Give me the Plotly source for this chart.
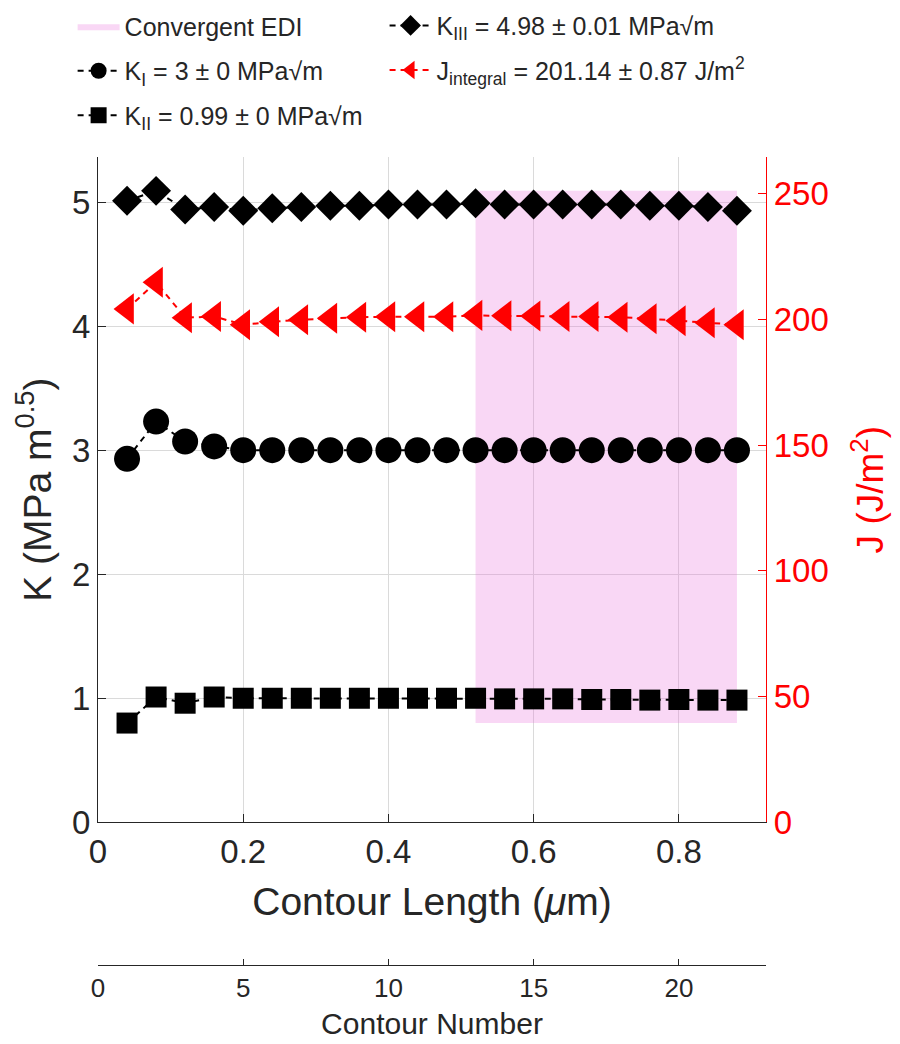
import plotly.graph_objects as go

# ---------------- data ----------------
contour_number = [1, 2, 3, 4, 5, 6, 7, 8, 9, 10, 11, 12, 13, 14, 15, 16, 17, 18, 19, 20, 21, 22]
contour_length = [0.04, 0.08, 0.12, 0.16, 0.20, 0.24, 0.28, 0.32, 0.36, 0.40, 0.44,
                  0.48, 0.52, 0.56, 0.60, 0.64, 0.68, 0.72, 0.76, 0.80, 0.84, 0.88]
K_I = [2.93, 3.23, 3.07, 3.03, 3.00, 3.00, 3.00, 3.00, 3.00, 3.00, 3.00,
       3.00, 3.00, 3.00, 3.00, 3.00, 3.00, 3.00, 3.00, 3.00, 3.00, 3.00]
K_II = [0.80, 1.01, 0.96, 1.01, 1.00, 1.00, 1.00, 1.00, 1.00, 1.00, 1.00,
        1.00, 1.00, 0.995, 0.995, 0.995, 0.99, 0.99, 0.985, 0.99, 0.985, 0.985]
K_III = [5.01, 5.09, 4.94, 4.96, 4.93, 4.95, 4.96, 4.97, 4.97, 4.98, 4.98,
         4.98, 4.99, 4.98, 4.98, 4.98, 4.98, 4.98, 4.97, 4.97, 4.96, 4.93]
J_integral = [204.1, 214.7, 200.6, 201.1, 197.8, 199.0, 199.8, 200.4, 200.8, 201.0, 201.0,
              201.0, 201.5, 201.4, 201.3, 201.1, 201.1, 200.8, 200.2, 199.4, 198.6, 197.8]
convergent_start = 13   # first contour of convergent EDI region
convergent_end = 22     # last contour of convergent EDI region

legend_labels = {
    "edi": "Convergent EDI",
    "KI": "K<sub>I</sub> = 3 ± 0 MPa√m",
    "KII": "K<sub>II</sub> = 0.99 ± 0 MPa√m",
    "KIII": "K<sub>III</sub> = 4.98 ± 0.01 MPa√m",
    "J": "J<sub>integral</sub> = 201.14 ± 0.87 J/m<sup>2</sup>",
}

x_ticks = [0, 0.2, 0.4, 0.6, 0.8]
k_ticks = [0, 1, 2, 3, 4, 5]
j_ticks = [0, 50, 100, 150, 200, 250]
n_ticks = [0, 5, 10, 15, 20]

# ---------------- styles ----------------
AX = "#262626"
GRID = "#dadada"
FONT = "Liberation Sans, Arial, Helvetica, sans-serif"

# shaded region from data
i0 = contour_number.index(convergent_start)
i1 = contour_number.index(convergent_end)
xs0, xs1 = contour_length[i0], contour_length[i1]
all_k = K_I + K_II + K_III
ys0, ys1 = min(all_k), max(all_k)

fig = go.Figure()

fig.add_trace(go.Scatter(
    x=[xs0, xs1, xs1, xs0, xs0], y=[ys0, ys0, ys1, ys1, ys0],
    fill="toself", fillcolor="rgba(235,110,220,0.28)", mode="lines",
    line=dict(width=0, color="rgba(0,0,0,0)"),
    name=legend_labels["edi"], legend="legend", legendgroup="edi",
    hoverinfo="skip"))

line_style = dict(color="black", width=2, dash="6px,5px")

fig.add_trace(go.Scatter(
    x=contour_length, y=K_I, mode="lines+markers",
    line=line_style, marker=dict(symbol="circle", size=26, color="black"),
    name=legend_labels["KI"], legend="legend", legendgroup="KI"))

fig.add_trace(go.Scatter(
    x=contour_length, y=K_II, mode="lines+markers",
    line=line_style, marker=dict(symbol="square", size=21, color="black"),
    name=legend_labels["KII"], legend="legend", legendgroup="KII"))

fig.add_trace(go.Scatter(
    x=contour_length, y=K_III, mode="lines+markers",
    line=line_style, marker=dict(symbol="diamond", size=23, color="black"),
    name=legend_labels["KIII"], legend="legend2", legendgroup="KIII"))

fig.add_trace(go.Scatter(
    x=contour_length, y=J_integral, mode="lines+markers", yaxis="y2",
    line=dict(color="red", width=2, dash="6px,5px"),
    marker=dict(symbol="triangle-left", size=27, color="red"),
    name=legend_labels["J"], legend="legend2", legendgroup="J"))

# invisible trace to carry the contour-number axis
fig.add_trace(go.Scatter(
    x=contour_number, y=K_I, xaxis="x2", mode="markers",
    marker=dict(opacity=0), showlegend=False, hoverinfo="skip"))

L, R, T, B = 98, 134, 157, 79
H = 1044
plot_bottom = 822.3
paper_h = H - T - B
ydom0 = (H - B - plot_bottom) / paper_h

fig.update_layout(
    width=900, height=H, autosize=False,
    margin=dict(l=L, r=R, t=T, b=B, pad=0, autoexpand=False),
    paper_bgcolor="white", plot_bgcolor="white",
    font=dict(family=FONT, color=AX, size=25),
    showlegend=True,
    xaxis=dict(
        range=[0, 0.92], domain=[0, 1], anchor="y",
        tickvals=x_ticks, ticktext=["0", "0.2", "0.4", "0.6", "0.8"],
        ticks="inside", ticklen=8, tickwidth=1.3, tickcolor=AX,
        showline=True, linecolor=AX, linewidth=1.3,
        showgrid=True, gridcolor=GRID, gridwidth=1, zeroline=False,
        tickfont=dict(size=33, color=AX),
        title=dict(text="Contour Length (<i>μ</i>m)", font=dict(size=39, color=AX), standoff=18),
        automargin=False),
    xaxis2=dict(
        range=[0, 23], overlaying="x", anchor="free", position=0, side="bottom",
        tickvals=n_ticks, ticks="inside", ticklen=6, tickwidth=1.3, tickcolor=AX,
        showline=True, linecolor=AX, linewidth=1.3,
        showgrid=False, zeroline=False,
        tickfont=dict(size=26, color=AX),
        title=dict(text="Contour Number", font=dict(size=30, color=AX), standoff=10),
        automargin=False),
    yaxis=dict(
        range=[0, 5.363], domain=[ydom0, 1], anchor="x",
        tickvals=k_ticks, ticks="inside", ticklen=8, tickwidth=1.3, tickcolor=AX,
        showline=True, linecolor=AX, linewidth=1.3,
        showgrid=True, gridcolor=GRID, gridwidth=1, zeroline=False,
        tickfont=dict(size=33, color=AX),
        title=dict(text="K (MPa m<sup>0.5</sup>)", font=dict(size=39, color=AX), standoff=8),
        automargin=False),
    yaxis2=dict(
        range=[0, 264.5], overlaying="y", side="right", anchor="x",
        tickvals=j_ticks, ticks="inside", ticklen=8, tickwidth=1.3, tickcolor="red",
        showline=True, linecolor="red", linewidth=1.3,
        showgrid=False, zeroline=False,
        tickfont=dict(size=33, color="red"),
        title=dict(text="J (J/m<sup>2</sup>)", font=dict(size=37, color="red"), standoff=29),
        automargin=False),
    legend=dict(x=-0.038, y=1.19, xanchor="left", yanchor="top",
                font=dict(size=25, color=AX), tracegroupgap=9, itemwidth=42,
                bgcolor="rgba(0,0,0,0)", borderwidth=0, itemsizing="trace"),
    legend2=dict(x=0.429, y=1.191, xanchor="left", yanchor="top",
                 font=dict(size=25, color=AX), tracegroupgap=9, itemwidth=42,
                 bgcolor="rgba(0,0,0,0)", borderwidth=0, itemsizing="trace"),
)

fig.write_html("out.html")
